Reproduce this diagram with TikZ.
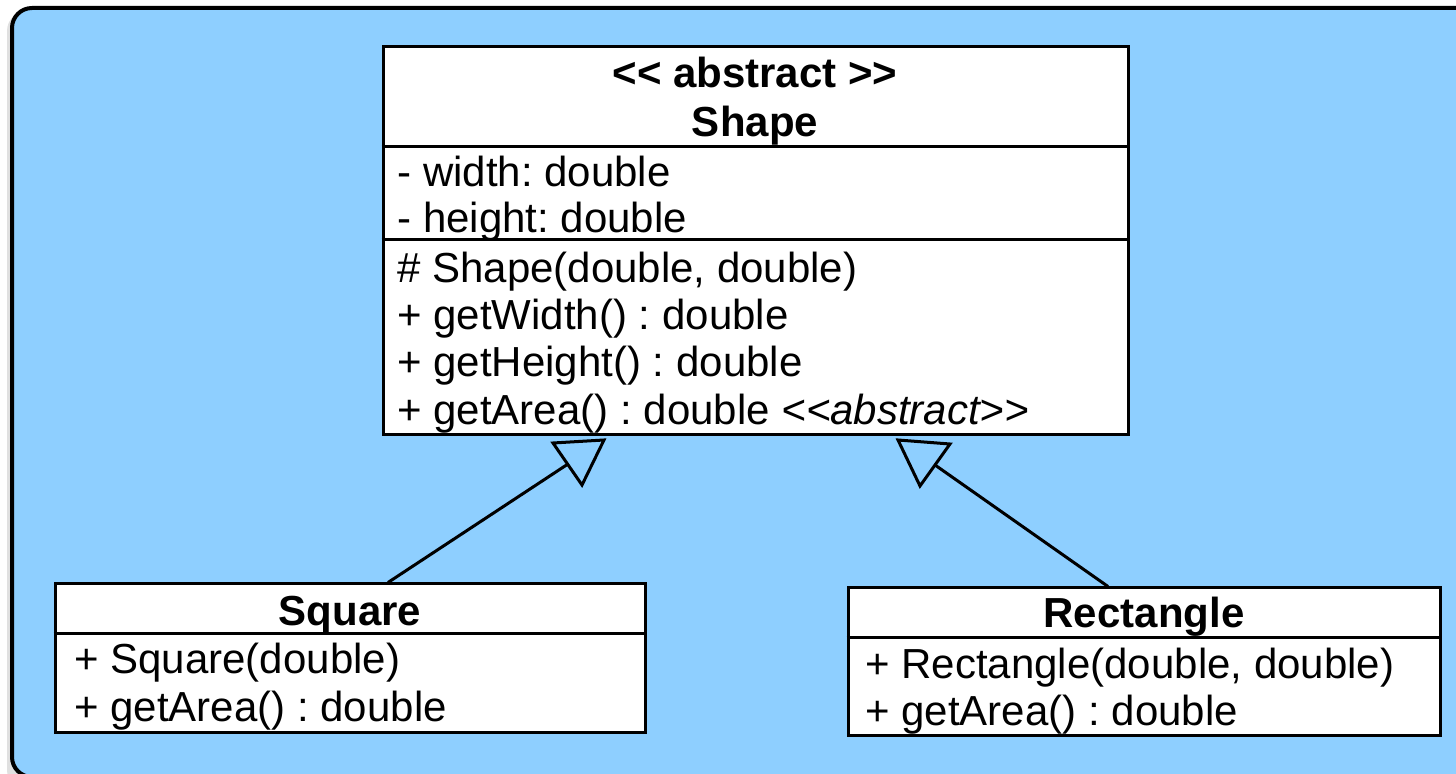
\documentclass[tikz,border=0pt]{standalone}
\usepackage{fontspec}
\setmainfont[Ligatures=NoCommon]{Liberation Sans}
\usetikzlibrary{fit}
\definecolor{bgblue}{RGB}{142,207,255}
\frenchspacing
\newcommand{\lt}{\char`\<}
\newcommand{\gt}{\char`\>}
\tikzset{
  classbox/.style={draw=black, line width=1.5pt, fill=white, inner sep=0pt, rectangle},
  divider/.style={draw=black, line width=1.5pt},
  member/.style={anchor=base west, inner sep=0pt, font=\fontsize{21pt}{24pt}\selectfont},
  title/.style={anchor=base, inner sep=0pt, font=\fontsize{21pt}{24pt}\selectfont\bfseries},
  link/.style={draw=black, line width=1.5pt},
  hollowtip/.style={draw=black, line width=1.5pt, line join=miter, fill=bgblue},
}
\begin{document}
\begin{tikzpicture}[x=0.5pt, y=-0.5pt]
\useasboundingbox (0,0) rectangle (1456,774);
% background panel
\fill[black, opacity=0.12, rounded corners=10pt] (7,11) rectangle (1480,790);
\draw[fill=bgblue, line width=2pt, rounded corners=10pt] (12,8) rectangle (1480,777);

% Shape class
\node[classbox, fit={(383,47) (1128,435)}] (shp) {};
\draw[divider] (shp.west |- 0,147) -- (shp.east |- 0,147);
\draw[divider] (shp.west |- 0,240) -- (shp.east |- 0,240);
\node[title] (shpst) at (755,88) {\lt{}\lt{} abstract \gt{}\gt{}};
\node[title] (shpnm) at (755,137) {Shape};
\node[member] (a1) at (397,187) {- width: double};
\node[member] (a2) at (397,233) {- height: double};
\node[member] (m1) at (397,283) {\# Shape(double, double)};
\node[member] (m2) at (397,330) {+ getWidth() : double};
\node[member] (m3) at (397,377) {+ getHeight() : double};
\node[member] (m4) at (397,425) {+ getArea() : double \textit{\lt{}\lt{}abstract\gt{}\gt{}}};

% Square class
\node[classbox, fit={(55,584) (645,732)}] (sq) {};
\draw[divider] (sq.west |- 0,633) -- (sq.east |- 0,633);
\node[title] (sqnm) at (350,625) {Square};
\node[member] (s1) at (74,673) {+ Square(double)};
\node[member] (s2) at (74,721) {+ getArea() : double};

% Rectangle class
\node[classbox, fit={(848,588) (1440,735)}] (rc) {};
\draw[divider] (rc.west |- 0,637) -- (rc.east |- 0,637);
\node[title] (rcnm) at (1144,627) {Rectangle};
\node[member] (r1) at (865,678) {+ Rectangle(double, double)};
\node[member] (r2) at (865,725) {+ getArea() : double};

% generalisation connectors
\coordinate (g1) at (568,464);
\coordinate (g2) at (935,465);
\draw[link] (sq.north -| 388,0) -- (g1);
\draw[link] (rc.north -| 1108,0) -- (g2);
\draw[hollowtip] (553,443) -- (604,440) -- (582,485) -- cycle;
\draw[hollowtip] (898,440) -- (950,444) -- (920,486) -- cycle;
\end{tikzpicture}
\end{document}
